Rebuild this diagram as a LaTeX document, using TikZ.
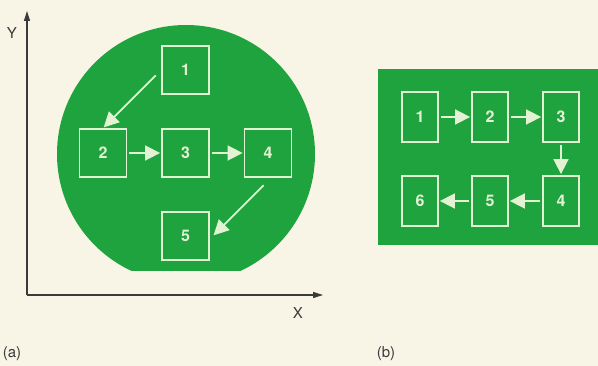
\documentclass[tikz,border=0pt]{standalone}
\usepackage{fontspec}
\setmainfont{TeX Gyre Heros}
\usetikzlibrary{arrows.meta}
\definecolor{paper}{HTML}{F8F5E6}
\definecolor{wafer}{HTML}{1FA33F}
\definecolor{pale}{HTML}{E4F2D4}
\definecolor{ink}{HTML}{3A3A3A}
\tikzset{
  diebox/.style={draw=pale, line width=1.8pt, fill=wafer, text=pale,
    font=\fontsize{16}{18}\selectfont\bfseries, inner sep=0pt},
  diea/.style={diebox, minimum width=47pt, minimum height=48pt},
  dieb/.style={diebox, minimum width=36pt, minimum height=50pt},
  flow/.style={draw=pale, line width=1.7pt, -{Triangle[length=15pt,width=15pt]}, shorten >=1pt, shorten <=2pt},
  axis/.style={draw=ink, line width=1.1pt, -{Triangle[length=10pt,width=6pt]}},
  lbl/.style={text=ink, font=\fontsize{15}{17}\selectfont}
}
\begin{document}
\begin{tikzpicture}[x=1pt,y=-1pt]
\fill[paper] (0,0) rectangle (598,366);
\useasboundingbox (0,0) rectangle (598,366);
% wafer (a)
\begin{scope}
\clip (0,0) rectangle (598,271);
\fill[wafer] (186,154) circle (129pt);
\end{scope}
% axes
\coordinate (O) at (27,295);
\coordinate (Ytip) at (27,11);
\coordinate (Xtip) at (323,295);
\draw[axis] (O) -- (Ytip);
\draw[axis] (O) -- (Xtip);
\node[lbl] (ylab) at (12,33) {Y};
\node[lbl] (xlab) at (298,313) {X};
\node[lbl] (la) at (12,354) {(a)};
\node[lbl] (lb) at (386,354) {(b)};
% dies (a)
\node[diea] (a1) at (185.5,70) {1};
\node[diea] (a2) at (103,153) {2};
\node[diea] (a3) at (185.5,153) {3};
\node[diea] (a4) at (268,153) {4};
\node[diea] (a5) at (185.5,236) {5};
\draw[flow] (a1.west) ++(-4,4) coordinate (s1) -- (a2.north);
\draw[flow] (a2) -- (a3);
\draw[flow] (a3) -- (a4);
\draw[flow] (a4.south) ++(-3,6) coordinate (s4) -- ([xshift=3pt]a5.east);
% panel (b)
\fill[wafer] (378,69) rectangle (598,245);
\node[dieb] (b1) at (420,117) {1};
\node[dieb] (b2) at (490,117) {2};
\node[dieb] (b3) at (561,117) {3};
\node[dieb] (b4) at (561,201) {4};
\node[dieb] (b5) at (490,201) {5};
\node[dieb] (b6) at (420,201) {6};
\draw[flow] (b1) -- (b2);
\draw[flow] (b2) -- (b3);
\draw[flow] (b3) -- (b4);
\draw[flow] (b4) -- (b5);
\draw[flow] (b5) -- (b6);
\end{tikzpicture}
\end{document}
